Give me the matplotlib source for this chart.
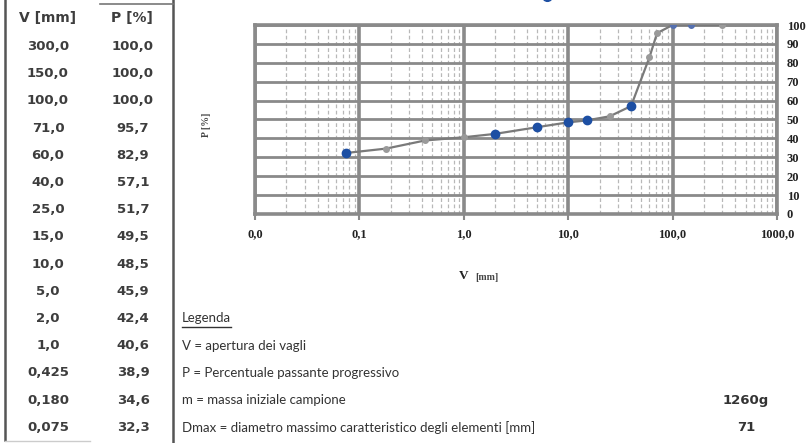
import matplotlib
matplotlib.use("Agg")
import matplotlib.pyplot as plt
from matplotlib.lines import Line2D
import numpy as np

# ---- data ----
V = [300.0, 150.0, 100.0, 71.0, 60.0, 40.0, 25.0, 15.0, 10.0, 5.0, 2.0, 1.0, 0.425, 0.180, 0.075]
P = [100.0, 100.0, 100.0, 95.7, 82.9, 57.1, 51.7, 49.5, 48.5, 45.9, 42.4, 40.6, 38.9, 34.6, 32.3]
V_labels = ["300,0", "150,0", "100,0", "71,0", "60,0", "40,0", "25,0", "15,0", "10,0",
            "5,0", "2,0", "1,0", "0,425", "0,180", "0,075"]
P_labels = ["100,0", "100,0", "100,0", "95,7", "82,9", "57,1", "51,7", "49,5", "48,5",
            "45,9", "42,4", "40,6", "38,9", "34,6", "32,3"]
V_blue = [40.0, 15.0, 10.0, 5.0, 2.0, 0.075]
V_blue_small = [100.0, 150.0]
x_tick_vals = [0.01, 0.1, 1, 10, 100, 1000]
x_tick_labels = ["0,0", "0,1", "1,0", "10,0", "100,0", "1000,0"]
y_tick_vals = [0, 10, 20, 30, 40, 50, 60, 70, 80, 90, 100]
legend_lines = ["V = apertura dei vagli", "P = Percentuale passante progressivo",
                "m = massa iniziale campione",
                "Dmax = diametro massimo caratteristico degli elementi [mm]"]
legend_values = ["", "", "1260g", "71"]

W, H = 806, 443
fig = plt.figure(figsize=(W / 100, H / 100), dpi=100)
fig.patch.set_facecolor("white")

def fx(px):
    return px / W

def fy(py):
    return 1 - py / H

# ---- chart ----
L, R, T, B = 255, 777, 25, 214
ax = fig.add_axes([fx(L), fy(B), fx(R - L), (B - T) / H])
ax.set_xscale("log")
ax.set_xlim(0.01, 1000)
ax.set_ylim(0, 100)

grid_col = "#8a8a8a"
for d in [0.01, 0.1, 1, 10, 100]:
    for k in range(2, 10):
        ax.axvline(d * k, color="#b8b8b8", lw=0.9, ls=(0, (3, 2)), zorder=1)
for xv in x_tick_vals:
    ax.axvline(xv, color=grid_col, lw=2.6, zorder=2)
for yv in y_tick_vals:
    ax.axhline(yv, color=grid_col, lw=2.0, zorder=2)

for s in ax.spines.values():
    s.set_color(grid_col)
    s.set_linewidth(2.6)

ax.plot(V, P, color="#7a7a7a", lw=1.6, zorder=3)
gray_v = [v for v in V if v not in V_blue and v not in V_blue_small]
gray_p = [p for v, p in zip(V, P) if v in gray_v]
ax.plot(gray_v, gray_p, ls="none", marker="o", ms=4, color="#9a9a9a", zorder=4)
bs_p = [p for v, p in zip(V, P) if v in V_blue_small]
ax.plot(V_blue_small, bs_p, ls="none", marker="o", ms=4, color="#5570b0", zorder=4)
b_p = [p for v, p in zip(V, P) if v in V_blue]
ax.plot(V_blue, b_p, ls="none", marker="o", ms=6, color="#1d4fa3", zorder=5)

ax.set_xticks(x_tick_vals)
ax.set_xticklabels(x_tick_labels)
ax.xaxis.set_minor_locator(matplotlib.ticker.NullLocator())
ax.set_yticks(y_tick_vals)
ax.set_yticklabels([str(v) for v in y_tick_vals])
ax.yaxis.tick_right()
ax.tick_params(axis="y", length=0, pad=7)
ax.tick_params(axis="x", length=4, color=grid_col, width=1.5, pad=6)
for lab in ax.get_xticklabels() + ax.get_yticklabels():
    lab.set_family("Liberation Serif")
    lab.set_fontweight("bold")
    lab.set_fontsize(9)
    lab.set_color("#222222")

fig.text(fx(207), fy(125), "P [%]", rotation=90, ha="center", va="center",
         family="Liberation Serif", fontweight="bold", fontsize=7, color="#444444")
fig.text(fx(468), fy(276), "V", ha="right", va="center",
         family="Liberation Serif", fontweight="bold", fontsize=9.5, color="#222222")
fig.text(fx(475), fy(277), "[mm]", ha="left", va="center",
         family="Liberation Serif", fontweight="bold", fontsize=7, color="#444444")

# cut-off legend marker at top
fig.add_artist(Line2D([fx(547)], [fy(-4)], marker="o", ms=7, color="#1d4fa3",
                      transform=fig.transFigure))

# ---- table ----
tcol = "#3d3d3d"
tfont = "DejaVu Sans"
lfont = "Lato"
fig.add_artist(Line2D([fx(5), fx(5)], [fy(0), fy(440)], color="#555555", lw=1.8))
fig.add_artist(Line2D([fx(173), fx(173)], [fy(0), fy(443)], color="#555555", lw=1.8))
fig.add_artist(Line2D([fx(100), fx(173)], [fy(4), fy(4)], color="#777777", lw=1.2))
fig.add_artist(Line2D([fx(5), fx(90)], [fy(441), fy(441)], color="#cccccc", lw=1.0))
fig.text(fx(48), fy(18), "V [mm]", ha="center", va="center", fontsize=10,
         fontweight="bold", color=tcol, family=tfont)
fig.text(fx(132), fy(18), "P [%]", ha="center", va="center", fontsize=10,
         fontweight="bold", color=tcol, family=tfont)
row0, dr = 46.5, 27.2
for i, (vl, pl) in enumerate(zip(V_labels, P_labels)):
    y = row0 + i * dr
    fig.text(fx(48), fy(y), vl, ha="center", va="center", fontsize=9.5,
             fontweight="bold", color=tcol, family=tfont)
    fig.text(fx(133), fy(y), pl, ha="center", va="center", fontsize=9.5,
             fontweight="bold", color=tcol, family=tfont)

# ---- legend ----
ly0 = row0 + 10 * dr
fig.text(fx(182), fy(ly0), "Legenda", ha="left", va="center", fontsize=9.5,
         color="#333333", family=lfont)
fig.add_artist(Line2D([fx(182), fx(231)], [fy(ly0 + 8), fy(ly0 + 8)], color="#333333", lw=1))
for j, (txt, val) in enumerate(zip(legend_lines, legend_values)):
    y = ly0 + (j + 1) * dr
    fig.text(fx(182), fy(y), txt, ha="left", va="center", fontsize=9.5,
             color="#333333", family=lfont)
    if val:
        fig.text(fx(746), fy(y), val, ha="center", va="center", fontsize=9.5,
                 fontweight="bold", color="#333333", family=tfont)

fig.savefig("out.png", dpi=100)
